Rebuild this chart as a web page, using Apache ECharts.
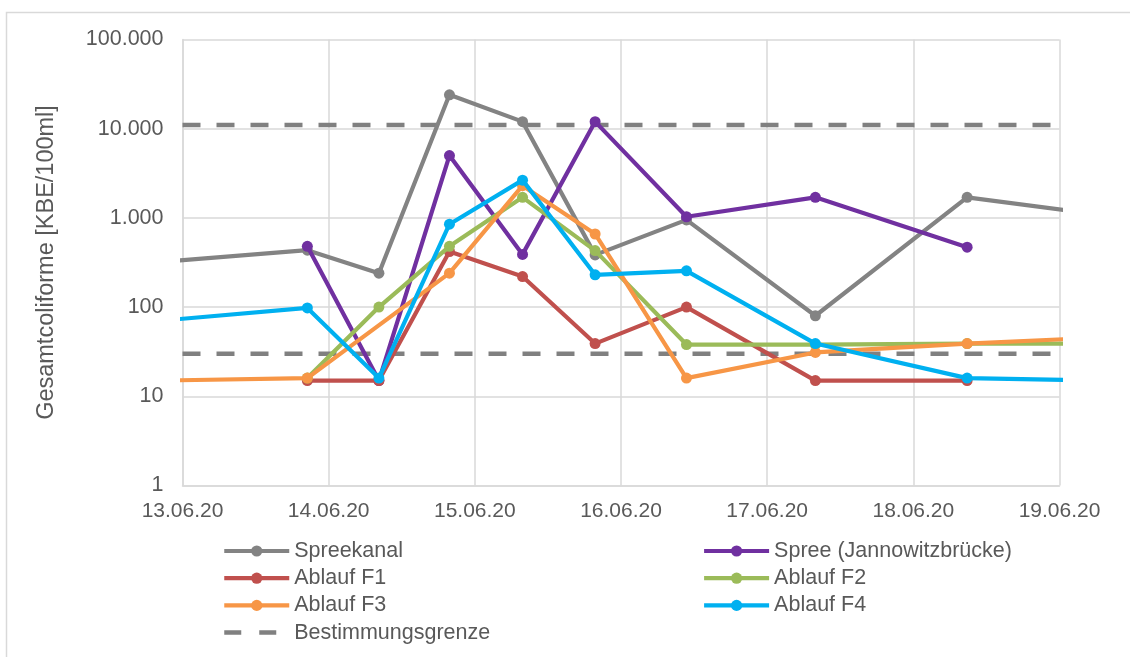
<!DOCTYPE html>
<html>
<head>
<meta charset="utf-8">
<script src="https://cdn.jsdelivr.net/npm/echarts@6/dist/echarts.min.js"></script>
<style>
html,body{margin:0;padding:0;background:#fff;}
#chart{width:1130px;height:657px;}
</style>
</head>
<body>
<div id="chart"></div>
<script>
// Sampling times (first and last lie outside the visible date range)
const sampleTimes = ['2020-06-12 20:00','2020-06-13 20:30','2020-06-14 08:15','2020-06-14 19:50','2020-06-15 07:50','2020-06-15 19:45','2020-06-16 10:45','2020-06-17 07:55','2020-06-18 08:50','2020-06-19 08:00'];

const spreekanal = [320, 435, 240, 24000, 12000, 385, 950, 80, 1700, 1060];
const spree      = [null, 480, 15, 5000, 390, 12000, 1030, 1700, 470, null];
const ablaufF1   = [null, 15, 15, 420, 220, 39, 100, 15, 15, null];
const ablaufF2   = [null, 16, 100, 480, 1700, 430, 38, 38, 39, 39];
const ablaufF3   = [15, 16, null, 240, 2300, 660, 16, 31, 39, 46];
const ablaufF4   = [70, 98, 16, 850, 2650, 230, 255, 39, 16, 15];

const limitTimes = ['2020-06-13 00:00','2020-06-19 00:00'];
const limitUpper = [11000, 11000];
const limitLower = [30, 30];

const xTickLabels = ['13.06.20','14.06.20','15.06.20','16.06.20','17.06.20','18.06.20','19.06.20'];
const yTickLabels = ['1','10','100','1.000','10.000','100.000'];

const seriesNames = ['Spreekanal','Spree (Jannowitzbrücke)','Ablauf F1','Ablauf F2','Ablauf F3','Ablauf F4','Bestimmungsgrenze'];
const seriesColors = ['#838383','#7030A0','#C0504D','#9BBB59','#F79646','#00B0F0','#808080'];

const DAY = 86400000;
function toMs(s){
  return Date.UTC(+s.slice(0,4), +s.slice(5,7)-1, +s.slice(8,10), +s.slice(11,13), +s.slice(14,16));
}
function pairs(times, vals){
  return times.map((t,i)=>[toMs(t), vals[i]]).filter(p=>p[1]!=null);
}
const xMin = toMs('2020-06-13 00:00');
const xMax = toMs('2020-06-19 00:00');

const FONT = 'Liberation Sans, Arial, Helvetica, sans-serif';
const TXT = '#595959';

function dataSeries(idx, vals){
  return {
    name: seriesNames[idx], type: 'line', data: pairs(sampleTimes, vals),
    symbol: 'circle', symbolSize: 11, showSymbol: true, connectNulls: true,
    clip: true, z: 3 + idx,
    itemStyle: {color: seriesColors[idx]},
    lineStyle: {color: seriesColors[idx], width: 4.2}
  };
}
function limitSeries(vals){
  return {
    name: seriesNames[6], type: 'line', data: pairs(limitTimes, vals),
    symbol: 'none', showSymbol: false, z: 2,
    itemStyle: {color: seriesColors[6]},
    lineStyle: {color: seriesColors[6], width: 4.5, type: [18, 16]}
  };
}
function legendItem(idx){
  if (idx === 6) {
    return {name: seriesNames[idx], itemStyle: {opacity: 0}, lineStyle: {width: 4.5, type: [17, 18]}};
  }
  return {name: seriesNames[idx]};
}
const legendBase = {
  orient: 'vertical', top: 535,
  itemWidth: 65, itemHeight: 14, itemGap: 5.2,
  lineStyle: {width: 4.2},
  textStyle: {color: TXT, fontSize: 21.5, fontFamily: FONT}
};

const chart = echarts.init(document.getElementById('chart'), null, {renderer: 'canvas'});
chart.setOption({
  animation: false,
  backgroundColor: '#fff',
  textStyle: {fontFamily: FONT},
  graphic: [{
    type: 'rect', left: 4, top: 10, z: -10,
    shape: {x: 0, y: 0, width: 1300, height: 800},
    style: {fill: 'none', stroke: '#d9d9d9', lineWidth: 1.5}
  }],
  grid: {left: 182.5, right: 70.5, top: 39.5, bottom: 171.5, containLabel: false},
  legend: [
    Object.assign({}, legendBase, {left: 217, data: [0, 2, 4, 6].map(legendItem)}),
    Object.assign({}, legendBase, {left: 697, data: [1, 3, 5].map(legendItem)})
  ],
  xAxis: {
    type: 'value', min: xMin, max: xMax, interval: DAY,
    axisLine: {show: true, lineStyle: {color: '#d9d9d9', width: 1.5}},
    axisTick: {show: false},
    splitLine: {show: true, lineStyle: {color: '#d9d9d9', width: 1.5}},
    axisLabel: {
      color: TXT, fontSize: 21, fontFamily: FONT, margin: 15,
      formatter: v => xTickLabels[Math.round((v - xMin) / DAY)] || ''
    }
  },
  yAxis: {
    type: 'log', logBase: 10, min: 1, max: 100000,
    name: 'Gesamtcoliforme [KBE/100ml]', nameLocation: 'middle', nameGap: 124, nameRotate: 90,
    nameTextStyle: {color: TXT, fontSize: 23.5, fontFamily: FONT},
    axisLine: {show: true, lineStyle: {color: '#d9d9d9', width: 1.5}},
    axisTick: {show: false},
    splitLine: {show: true, lineStyle: {color: '#d9d9d9', width: 1.5}},
    minorSplitLine: {show: false},
    axisLabel: {
      color: TXT, fontSize: 21.5, fontFamily: FONT, margin: 19,
      formatter: v => yTickLabels[Math.round(Math.log10(v))] || ''
    }
  },
  series: [
    dataSeries(0, spreekanal),
    dataSeries(1, spree),
    dataSeries(2, ablaufF1),
    dataSeries(3, ablaufF2),
    dataSeries(4, ablaufF3),
    dataSeries(5, ablaufF4),
    limitSeries(limitUpper),
    limitSeries(limitLower)
  ]
});
</script>
</body>
</html>
